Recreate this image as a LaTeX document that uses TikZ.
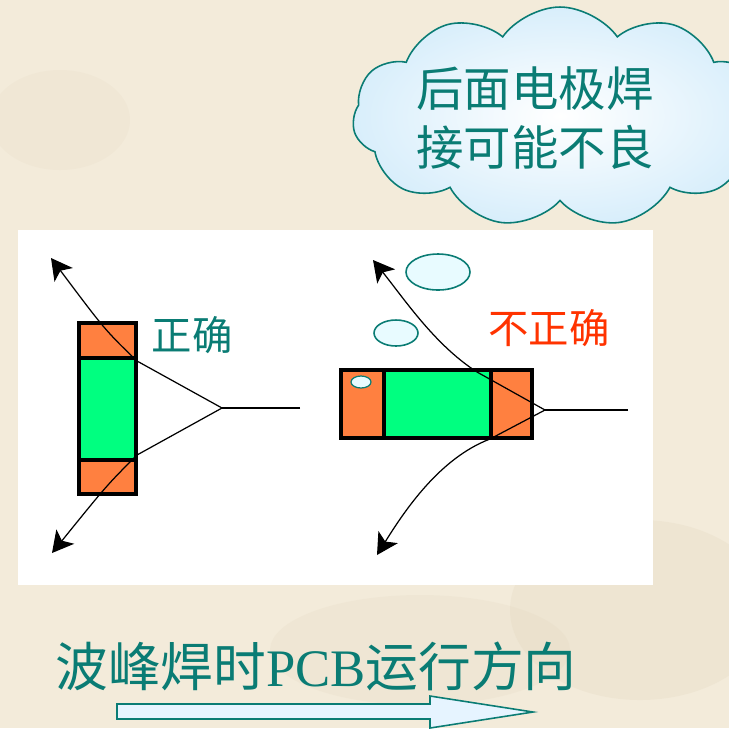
\documentclass[tikz,border=0pt]{standalone}
\usepackage{fontspec}
\setmainfont{Liberation Serif}
\newfontfamily\cjk{Noto Sans CJK SC}
\usetikzlibrary{shapes.symbols,arrows.meta}

\definecolor{paper}{HTML}{F3EBDA}
\definecolor{stain}{HTML}{DCCFB4}
\definecolor{tealtext}{HTML}{0A7C74}
\definecolor{padorange}{HTML}{FF8040}
\definecolor{bodygreen}{HTML}{00FF80}
\definecolor{wrongred}{HTML}{FF3300}
\definecolor{bubble}{HTML}{E8FBFF}
\definecolor{cloudblue}{HTML}{D8EEFB}
\definecolor{arrowblue}{HTML}{E6F4FF}

\begin{document}
\begin{tikzpicture}[x=0.02cm,y=-0.02cm,
  part/.style={draw=black,line width=2.4pt},
  lead/.style={draw=black,line width=0.7pt},
  flow/.style={lead,-{Stealth[length=12pt,width=13pt,inset=3pt]}},
  drop/.style={draw=tealtext,line width=0.9pt,fill=bubble},
  tag/.style={font=\cjk\fontsize{23}{25}\selectfont}]

\useasboundingbox (0,0) rectangle (729,728);
\fill[paper] (0,0) rectangle (729,728);
% faint stains on the paper
\fill[stain,opacity=0.2] (640,610) ellipse [x radius=130, y radius=90];
\fill[stain,opacity=0.15] (420,650) ellipse [x radius=150, y radius=55];
\fill[stain,opacity=0.12] (60,120) ellipse [x radius=70, y radius=50];

% thought cloud
\node[cloud, cloud puffs=11, cloud puff arc=110, aspect=1.7,
  draw=tealtext, line width=0.9pt, inner color=white, outer color=cloudblue,
  minimum width=8.3cm, minimum height=4.4cm] (note) at (560,117) {};
\node[font=\cjk\fontsize{27}{34}\selectfont, text=tealtext, align=center]
  (msg) at (535,118) {后面电极焊\\接可能不良};

% white board
\fill[white] (18,230) rectangle (653,585);

% left part: standing upright
\draw[part,fill=padorange] (79,323) rectangle (136,494);
\draw[part,fill=bodygreen] (79,358) rectangle (136,460);

\coordinate (lfork) at (222,408);
\coordinate (lfeed) at (300,408);
\coordinate (lup) at (137,361);
\coordinate (ldown) at (137,455);
\coordinate (ltop) at (51,258);
\coordinate (lbot) at (52,553);

\draw[lead] (lfeed) -- (lfork);
\draw[flow] (lfork) -- (lup) .. controls (105,330) .. (ltop);
\draw[flow] (lfork) -- (ldown) .. controls (107,485) .. (lbot);

% right part: lying across the flow
\draw[part,fill=padorange] (341,370) rectangle (532,438);
\draw[part,fill=bodygreen] (384,370) rectangle (491,438);
\draw[drop,line width=0.7pt] (361,382) ellipse [x radius=10, y radius=6];

\coordinate (rfork) at (545,410);
\coordinate (rfeed) at (628,410);
\coordinate (rup) at (477,372);
\coordinate (rdown) at (490,439);
\coordinate (rtop) at (373,260);
\coordinate (rbot) at (377,555);

\draw[lead] (rfeed) -- (rfork);
\draw[flow] (rfork) -- (rup) .. controls (435,345) and (405,300) .. (rtop);
\draw[flow] (rfork) -- (rdown) .. controls (440,458) and (405,510) .. (rbot);

% gas bubbles
\draw[drop] (438,272) ellipse [x radius=32, y radius=18];
\draw[drop] (396,333) ellipse [x radius=22, y radius=13];

\node[tag,text=tealtext] (good) at (192,335) {正确};
\node[tag,text=wrongred] (bad) at (549,328) {不正确};

% board travel direction
\node[font=\cjk\fontsize{30}{32}\selectfont, text=tealtext] (dir) at (316,666)
  {波峰焊时{\rmfamily PCB}运行方向};
\draw[draw=tealtext,line width=0.9pt,fill=arrowblue]
  (117,704) -- (430,704) -- (430,696) -- (533,712) -- (430,728)
  -- (430,719) -- (117,719) -- cycle;
\end{tikzpicture}
\end{document}
